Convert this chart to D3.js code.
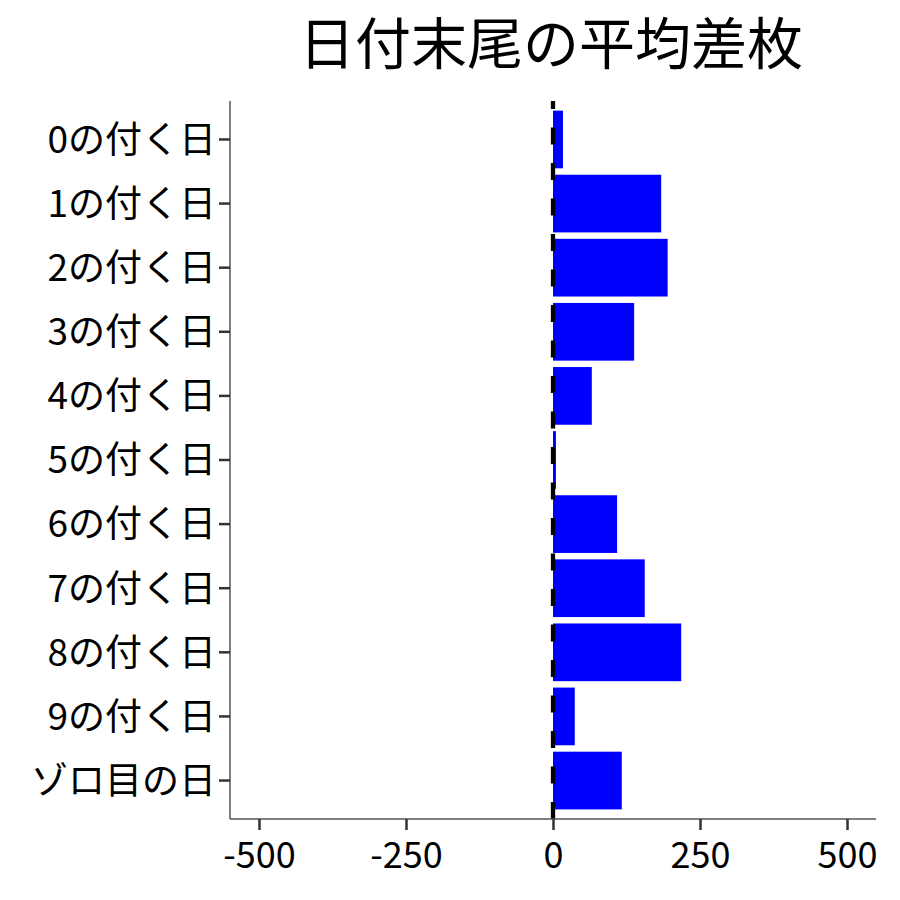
<!DOCTYPE html>
<html><head><meta charset="utf-8">
<script src="https://cdn.jsdelivr.net/npm/d3@7"></script>
<style>body{margin:0;background:#fff}</style>
</head><body>
<svg id="c" width="900" height="900"></svg>
<script>
const categories = ["0の付く日","1の付く日","2の付く日","3の付く日","4の付く日","5の付く日","6の付く日","7の付く日","8の付く日","9の付く日","ゾロ目の日"];
const values = [17, 184, 195, 138, 66, 5, 109, 156, 218, 37, 117];
const xTicks = [-500, -250, 0, 250, 500];
const title = "日付末尾の平均差枚";

const svg = d3.select("#c");
const font = "'Noto Sans CJK JP', 'Noto Sans', sans-serif";
const L = 230, R = 876, T = 101, B = 819;
const x = d3.scaleLinear().domain([-549.3, 549.3]).range([L, R]);
const y = d3.scaleBand().domain(categories).range([T, B]).paddingInner(0.1).paddingOuter(0.15);

// bars
svg.append("g").selectAll("rect").data(values).join("rect")
  .attr("x", d => x(Math.min(0, d)))
  .attr("width", d => Math.abs(x(d) - x(0)))
  .attr("y", (d, i) => y(categories[i]))
  .attr("height", y.bandwidth())
  .attr("fill", "#0000ff");

// dashed zero line (drawn bottom to top)
svg.append("line")
  .attr("x1", x(0)).attr("x2", x(0)).attr("y1", B).attr("y2", T)
  .attr("stroke", "#000").attr("stroke-width", 4.3)
  .attr("stroke-dasharray", "17,18.5");

// axes
const xa = svg.append("g").attr("transform", `translate(0,${B})`)
  .call(d3.axisBottom(x).tickValues(xTicks).tickSize(11).tickPadding(12).tickFormat(d => String(d)));
const ya = svg.append("g").attr("transform", `translate(${L},0)`)
  .call(d3.axisLeft(y).tickSize(11).tickPadding(3));
[xa, ya].forEach(a => {
  a.select(".domain").attr("stroke", "#555").attr("stroke-width", 1.5)
  a.selectAll(".tick line").attr("stroke", "#333").attr("stroke-width", 2.5);
  a.selectAll(".tick text").attr("fill", "#000").style("font-family", font).style("font-size", "36px");
});
ya.selectAll(".tick text").style("font-size", "37px");
xa.select(".domain").attr("d", `M${L},0H${R}`);
ya.select(".domain").attr("d", `M0,${T}V${B}`);
ya.selectAll(".tick text").attr("dy", "0.36em");

// title
svg.append("text").attr("x", (L + R) / 2 - 2).attr("y", 64)
  .attr("text-anchor", "middle").style("font-family", font).style("font-size", "56px")
  .attr("fill", "#000").text(title);
</script>
</body></html>
